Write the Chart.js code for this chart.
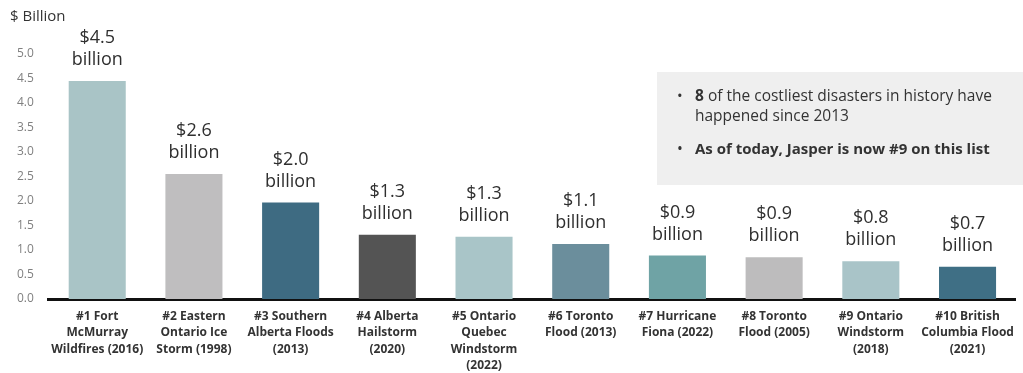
<!DOCTYPE html>
<html>
<head>
<meta charset="utf-8">
<script src="https://cdn.jsdelivr.net/npm/chart.js@4/dist/chart.umd.min.js"></script>
<style>
  html, body { margin: 0; padding: 0; background: #ffffff; }
  #wrap { width: 1023px; height: 373px; position: relative; }
</style>
</head>
<body>
<div id="wrap"><canvas id="disaster_chart"></canvas></div>
<script>
// categories (multi-line labels)
var categories = [
    ["#1 Fort", "McMurray", "Wildfires (2016)"],
    ["#2 Eastern", "Ontario Ice", "Storm (1998)"],
    ["#3 Southern", "Alberta Floods", "(2013)"],
    ["#4 Alberta", "Hailstorm", "(2020)"],
    ["#5 Ontario", "Quebec", "Windstorm", "(2022)"],
    ["#6 Toronto", "Flood (2013)"],
    ["#7 Hurricane", "Fiona (2022)"],
    ["#8 Toronto", "Flood (2005)"],
    ["#9 Ontario", "Windstorm", "(2018)"],
    ["#10 British", "Columbia Flood", "(2021)"]
];

// insured losses, $ billion
var costs = [4.45, 2.55, 1.97, 1.31, 1.27, 1.12, 0.89, 0.85, 0.77, 0.66];

// text printed above each bar
var costLabels = ["$4.5", "$2.6", "$2.0", "$1.3", "$1.3", "$1.1", "$0.9", "$0.9", "$0.8", "$0.7"];

var barColors = [
    "#a9c4c6",
    "#bfbebf",
    "#3e6b82",
    "#545454",
    "#a9c5c8",
    "#6b8e9c",
    "#6fa3a5",
    "#bdbcbd",
    "#a9c4c8",
    "#3f6f85"
];

var noteLines = [
    "8 of the costliest disasters in history have",
    "happened since 2013",
    "As of today, Jasper is now #9 on this list"
];

//============================================
// labels above bars + note box + axis title
//============================================
var extrasPlugin = {
    id: 'extras',
    afterDatasetsDraw: function(chart) {
        var ctx = chart.ctx;
        var meta = chart.getDatasetMeta(0);
        ctx.save();
        ctx.fillStyle = "#2f2f2f";
        ctx.font = "18px 'Open Sans'";
        ctx.textAlign = "center";
        ctx.textBaseline = "middle";
        meta.data.forEach(function(bar, i) {
            ctx.fillText(costLabels[i], bar.x, bar.y - 43);
            ctx.fillText("billion", bar.x, bar.y - 21);
        });

        // axis title
        ctx.textAlign = "left";
        ctx.fillStyle = "#333333";
        ctx.font = "15px 'Open Sans'";
        ctx.fillText("$ Billion", 10, 17);

        // note box
        ctx.fillStyle = "#efefef";
        ctx.fillRect(657, 72, 366, 113);
        ctx.fillStyle = "#333333";
        ctx.font = "15px 'Open Sans'";
        ctx.fillText("\u2022", 677, 97);
        ctx.font = "bold 15.5px 'Open Sans'";
        ctx.fillText("8", 695, 97);
        var w8 = ctx.measureText("8").width;
        ctx.font = "15.5px 'Open Sans'";
        ctx.fillText(noteLines[0].slice(1), 695 + w8, 97);
        ctx.fillText(noteLines[1], 695, 117);
        ctx.fillText("\u2022", 677, 150);
        ctx.font = "bold 15px 'Open Sans'";
        ctx.fillText(noteLines[2], 695, 150);
        ctx.restore();
    }
};

var config = {
    type: 'bar',
    data: {
        labels: categories,
        datasets: [{
            data: costs,
            backgroundColor: barColors,
            borderWidth: 0,
            categoryPercentage: 1,
            barPercentage: 0.59,
            label: 'Insured losses'
        }]
    },
    options: {
        responsive: false,
        animation: false,
        layout: {
            padding: { top: 54, left: 2, right: 2, bottom: 0 }
        },
        plugins: {
            legend: { display: false },
            title: { display: false },
            tooltip: { enabled: false }
        },
        scales: {
            x: {
                grid: { display: false, drawTicks: false },
                border: { display: true, color: "#111111", width: 3 },
                afterFit: function(scale) { scale.height = 74; },
                ticks: {
                    color: "#333333",
                    padding: 9,
                    maxRotation: 0,
                    autoSkip: false,
                    font: { family: "Open Sans", size: 12, weight: "bold", lineHeight: 1.375 }
                }
            },
            y: {
                min: 0,
                max: 5,
                grid: { display: false, drawTicks: false },
                border: { display: false },
                ticks: {
                    stepSize: 0.5,
                    color: "#808080",
                    padding: 15,
                    font: { family: "Open Sans", size: 12 },
                    callback: function(v) { return v.toFixed(1); }
                }
            }
        }
    },
    plugins: [extrasPlugin]
};

var canvas = document.getElementById("disaster_chart");
canvas.width = 1023;
canvas.height = 373;
new Chart(canvas.getContext("2d"), config);
</script>
</body>
</html>
